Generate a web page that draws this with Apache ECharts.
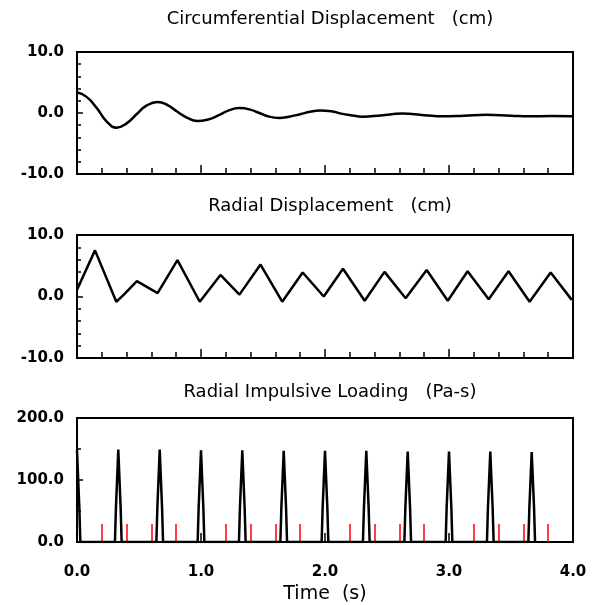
<!DOCTYPE html>
<html>
<head>
<meta charset="utf-8">
<script src="https://cdn.jsdelivr.net/npm/echarts@6/dist/echarts.min.js"></script>
<style>
  html, body { margin: 0; padding: 0; background: #fff; }
  #chart { width: 603px; height: 605px; }
</style>
</head>
<body>
<div id="chart"></div>
<script>
// 数据
var circTime = [0, 0.08, 0.16, 0.24, 0.32, 0.40, 0.48, 0.56, 0.65, 0.73, 0.81, 0.89, 0.97, 1.05, 1.14, 1.22, 1.31, 1.39, 1.47, 1.55, 1.63, 1.71, 1.80, 1.88, 1.96, 2.05, 2.13, 2.22, 2.30, 2.45, 2.62, 2.80, 2.95, 3.12, 3.30, 3.50, 3.65, 3.82, 4.0];
var circDisp = [3.4, 2.6, 0.8, -1.4, -2.4, -1.7, -0.2, 1.2, 1.8, 1.3, 0.2, -0.8, -1.3, -1.1, -0.4, 0.4, 0.8, 0.6, 0.0, -0.6, -0.8, -0.6, -0.2, 0.2, 0.4, 0.3, -0.1, -0.4, -0.6, -0.4, -0.1, -0.35, -0.55, -0.45, -0.3, -0.45, -0.55, -0.5, -0.55];

var radTime = [0, 0.145, 0.317, 0.378, 0.483, 0.65, 0.81, 0.99, 1.157, 1.31, 1.48, 1.655, 1.82, 1.99, 2.145, 2.32, 2.48, 2.65, 2.82, 2.99, 3.15, 3.32, 3.48, 3.65, 3.82, 3.99];
var radDisp = [1.1, 7.5, -0.85, 0.3, 2.5, 0.55, 5.9, -0.85, 3.5, 0.3, 5.2, -0.85, 3.9, 0.0, 4.5, -0.7, 4.0, -0.3, 4.3, -0.7, 4.1, -0.45, 4.1, -0.85, 3.9, -0.55];

// impulse pulses: time, peak height, and the shape (offset from pulse time -> value)
var pulseTime = [0, 0.333, 0.667, 1.0, 1.333, 1.667, 2.0, 2.333, 2.667, 3.0, 3.333, 3.667];
var pulsePeak = [148, 149, 149, 148, 148, 147, 147, 147, 146, 146, 146, 145];
var pulseShoulder = 55;   // height where the spike widens
var pulseOffsets = [-0.027, -0.019, 0, 0.019, 0.027];

var titles = ['Circumferential Displacement   (cm)', 'Radial Displacement   (cm)', 'Radial Impulsive Loading   (Pa-s)'];

(function() {
    var myChart = echarts.init(document.getElementById('chart'));

    function zip(xs, ys) {
        return xs.map(function(x, i) { return [x, ys[i]]; });
    }
    // each pulse: base, shoulder, peak, shoulder, base
    var pulseData = [];
    pulseTime.forEach(function(t, i) {
        var vals = [0, pulseShoulder, pulsePeak[i], pulseShoulder, 0];
        pulseOffsets.forEach(function(d, k) {
            if (t + d >= 0) pulseData.push([t + d, vals[k]]);
        });
    });

    var fontFam = 'DejaVu Sans';
    var grids = [
        { left: 77, right: 30, top: 52, height: 122 },
        { left: 77, right: 30, top: 235, height: 123 },
        { left: 77, right: 30, top: 418, height: 125 }
    ];
    grids.forEach(function(g) {
        g.show = true;
        g.borderColor = '#000';
        g.borderWidth = 2;
        g.backgroundColor = 'transparent';
    });

    function xAxis(idx, showLabel) {
        return {
            gridIndex: idx,
            type: 'value',
            position: 'bottom',
            min: 0,
            max: 4,
            interval: 1,
            splitLine: { show: false },
            axisLine: { show: true, onZero: false, lineStyle: { color: '#000', width: 2 } },
            axisTick: { show: true, inside: true, length: 9, lineStyle: { color: '#000', width: 1.5 } },
            minorTick: { show: true, splitNumber: 5, length: showLabel ? 18 : 6, lineStyle: { color: showLabel ? '#f00' : '#000', width: 1.5 } },
            axisLabel: {
                show: showLabel,
                color: '#000',
                fontFamily: fontFam,
                fontSize: 15,
                fontWeight: 'bold',
                margin: 23,
                formatter: function(v) { return v.toFixed(1); }
            },
            name: showLabel ? 'Time  (s)' : '',
            nameLocation: 'middle',
            nameGap: 43,
            nameTextStyle: { color: '#000', fontFamily: fontFam, fontSize: 19 }
        };
    }
    function yAxis(idx, min, max, interval, minorSplit) {
        return {
            gridIndex: idx,
            type: 'value',
            min: min,
            max: max,
            interval: interval,
            splitLine: { show: false },
            axisLine: { show: true, onZero: false, lineStyle: { color: '#000', width: 2 } },
            axisTick: { show: true, inside: true, length: 6, lineStyle: { color: '#000', width: 1.5 } },
            minorTick: { show: true, splitNumber: minorSplit, length: 4, lineStyle: { color: '#000', width: 1.5 } },
            axisLabel: {
                color: '#000',
                fontFamily: fontFam,
                fontSize: 15,
                fontWeight: 'bold',
                margin: 13,
                formatter: function(v) { return v.toFixed(1); }
            }
        };
    }

    var titleTops = [5, 192, 378];
    var option = {
        animation: false,
        backgroundColor: '#fff',
        title: titles.map(function(t, i) {
            return {
                text: t,
                left: 325,
                textAlign: 'center',
                top: titleTops[i],
                textStyle: { color: '#000', fontFamily: fontFam, fontSize: 18, fontWeight: 'normal' }
            };
        }),
        grid: grids,
        xAxis: [xAxis(0, false), xAxis(1, false), xAxis(2, true)],
        yAxis: [yAxis(0, -10, 10, 10, 5), yAxis(1, -10, 10, 10, 5), yAxis(2, 0, 200, 100, 2)],
        series: [{
            type: 'line',
            xAxisIndex: 0,
            yAxisIndex: 0,
            smooth: 0.5,
            showSymbol: false,
            lineStyle: { color: '#000', width: 2.5 },
            data: zip(circTime, circDisp)
        }, {
            type: 'line',
            xAxisIndex: 1,
            yAxisIndex: 1,
            showSymbol: false,
            lineStyle: { color: '#000', width: 2.5 },
            data: zip(radTime, radDisp)
        }, {
            type: 'line',
            xAxisIndex: 2,
            yAxisIndex: 2,
            showSymbol: false,
            lineStyle: { color: '#000', width: 2.5 },
            data: pulseData
        }]
    };
    myChart.setOption(option);
})();
</script>
</body>
</html>
